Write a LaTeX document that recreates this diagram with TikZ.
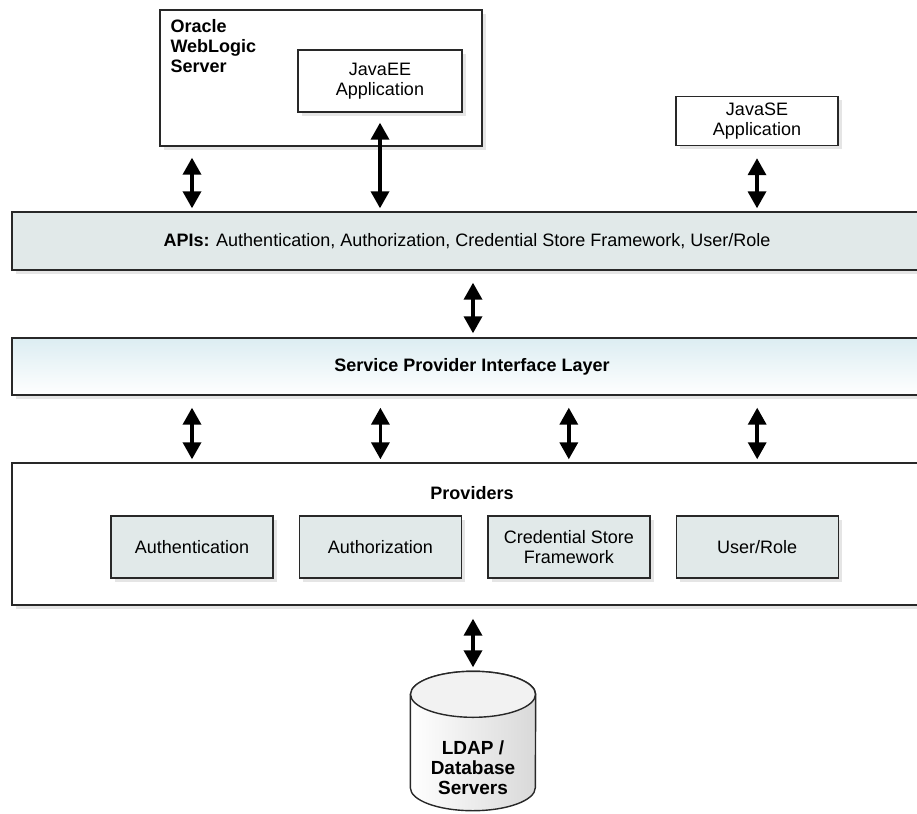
\documentclass[tikz,border=0pt]{standalone}
\usepackage{fontspec}
\setmainfont{Liberation Sans}
\usetikzlibrary{positioning, arrows.meta, shadows}

\definecolor{apifill}{RGB}{225,233,233}
\definecolor{spitop}{RGB}{220,237,242}
\definecolor{edge}{RGB}{40,40,40}

\begin{document}
\begin{tikzpicture}
    [x=1pt, y=-1pt,
     every node/.style={align=center, font=\fontsize{18}{20}\selectfont},
     shade/.style={drop shadow={shadow xshift=4pt, shadow yshift=-4pt, fill=black, opacity=.1}},
     box/.style={draw=edge, line width=1.4pt, fill=white, shade},
     bar/.style={box, minimum width=920pt, minimum height=58pt},
     prov/.style={box, fill=apifill, minimum width=162pt, minimum height=62pt},
     cyl/.style={draw=edge, line width=1.4pt},
     arr/.style={draw=black, line width=3.5pt, {Triangle[width=18pt,length=17pt]}-{Triangle[width=18pt,length=17pt]}},
    ]
    \useasboundingbox (0,0) rectangle (917,813);
    \clip (0,0) rectangle (917,813);

    \node (wls) [box, minimum width=322pt, minimum height=136pt] at (321,78) {};
    \node (wlslabel) [anchor=north west, inner sep=0pt, font=\fontsize{18}{20}\selectfont\bfseries, align=left]
        at ([xshift=11pt, yshift=-10pt]wls.north west) {Oracle\\WebLogic\\Server};
    \node (javaee) [box, minimum width=164pt, minimum height=62pt] at (380,81) {JavaEE\\Application};
    \node (javase) [box, minimum width=162pt, minimum height=49pt] at (757,121) {JavaSE\\Application};

    \node (api) [bar, fill=apifill, minimum width=910pt] at (467,241) {\textbf{APIs:} Authentication, Authorization, Credential Store Framework, User/Role};
    \node (spi) [bar, top color=spitop, bottom color=white, minimum height=57pt] at (472,366.5) {\textbf{Service Provider Interface Layer}};

    \node (providers) [box, minimum width=920pt, minimum height=142pt] at (472,534) {};
    \node (provlabel) [font=\fontsize{18}{20}\selectfont\bfseries] at (472,493) {Providers};
    \node (auth) [prov] at (192,547) {Authentication};
    \node (authz) [prov, right=25pt of auth] {Authorization};
    \node (cred) [prov, right=25pt of authz] {Credential Store\\Framework};
    \node (user) [prov, right=25pt of cred] {User/Role};

    % database cylinder
    \node (db) [minimum width=125pt, minimum height=139pt, inner sep=0pt] at (473,741) {};
    \draw [cyl, left color=white, right color=gray!30]
        ([yshift=-23pt]db.north west) -- ([yshift=23pt]db.south west)
        arc [start angle=180, end angle=360, x radius=62.5pt, y radius=23pt]
        -- ([yshift=-23pt]db.north east)
        arc [start angle=0, end angle=180, x radius=62.5pt, y radius=23pt] -- cycle;
    \draw [cyl, fill=gray!10] ([yshift=-23pt]db.north) ellipse [x radius=62.5pt, y radius=23pt];
    \node (dblabel) [font=\fontsize{19}{20}\selectfont\bfseries] at ([yshift=-27pt]db.center) {LDAP /\\Database\\Servers};

    \draw [arr, shorten <=11pt, shorten >=3pt] (wls.south -| auth) -- (api.north -| auth);
    \draw [arr, shorten <=10pt, shorten >=3pt] (javaee.south) -- (api.north -| javaee);
    \draw [arr, shorten <=12pt, shorten >=3pt] (javase.south) -- (api.north -| javase);

    \draw [arr, shorten <=12pt, shorten >=4pt] (api.south -| db) -- (spi.north -| db);

    \draw [arr, shorten <=12pt, shorten >=3pt] (spi.south -| auth) -- (providers.north -| auth);
    \draw [arr, shorten <=12pt, shorten >=3pt] (spi.south -| authz) -- (providers.north -| authz);
    \draw [arr, shorten <=12pt, shorten >=3pt] (spi.south -| cred) -- (providers.north -| cred);
    \draw [arr, shorten <=12pt, shorten >=3pt] (spi.south -| user) -- (providers.north -| user);

    \draw [arr, shorten <=13pt, shorten >=4pt] (providers.south -| db) -- (db.north);

\end{tikzpicture}
\end{document}
